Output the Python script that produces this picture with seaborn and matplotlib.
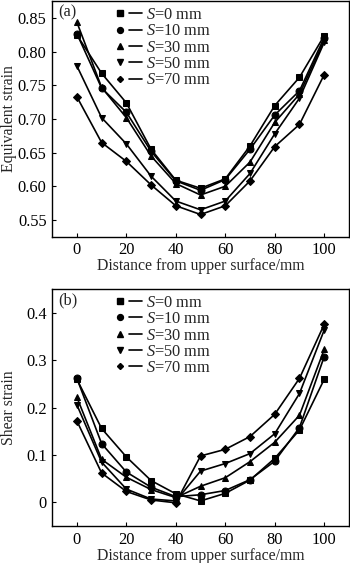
import matplotlib
matplotlib.use("Agg")
import matplotlib.pyplot as plt
import seaborn as sns
import pandas as pd
from matplotlib.lines import Line2D
from matplotlib.legend_handler import HandlerTuple

distance = [0, 10, 20, 30, 40, 50, 60, 70, 80, 90, 100]
series = ["S=0 mm", "S=10 mm", "S=30 mm", "S=50 mm", "S=70 mm"]
legend_labels = [r"$\mathit{S}$=0 mm", r"$\mathit{S}$=10 mm", r"$\mathit{S}$=30 mm",
                 r"$\mathit{S}$=50 mm", r"$\mathit{S}$=70 mm"]

eq_s0  = [0.825, 0.768, 0.724, 0.655, 0.609, 0.597, 0.611, 0.660, 0.720, 0.762, 0.824]
eq_s10 = [0.827, 0.746, 0.710, 0.652, 0.608, 0.594, 0.610, 0.655, 0.706, 0.742, 0.821]
eq_s30 = [0.844, 0.747, 0.702, 0.645, 0.604, 0.587, 0.600, 0.636, 0.695, 0.737, 0.817]
eq_s50 = [0.779, 0.702, 0.663, 0.615, 0.578, 0.565, 0.578, 0.619, 0.678, 0.731, 0.814]
eq_s70 = [0.733, 0.665, 0.637, 0.602, 0.571, 0.558, 0.571, 0.608, 0.659, 0.692, 0.766]

sh_s0  = [0.260, 0.156, 0.096, 0.046, 0.018, 0.003, 0.019, 0.047, 0.093, 0.153, 0.260]
sh_s10 = [0.262, 0.124, 0.064, 0.032, 0.012, 0.016, 0.025, 0.048, 0.087, 0.158, 0.308]
sh_s30 = [0.222, 0.091, 0.053, 0.027, 0.010, 0.034, 0.052, 0.086, 0.127, 0.184, 0.323]
sh_s50 = [0.206, 0.085, 0.028, 0.007, 0.003, 0.066, 0.082, 0.103, 0.145, 0.230, 0.364]
sh_s70 = [0.172, 0.062, 0.023, 0.005, -0.001, 0.098, 0.112, 0.139, 0.186, 0.262, 0.376]

markers = {"S=0 mm": "s", "S=10 mm": "o", "S=30 mm": "^", "S=50 mm": "v", "S=70 mm": "D"}
msizes = {"S=0 mm": 5.0, "S=10 mm": 5.0, "S=30 mm": 5.0, "S=50 mm": 5.0, "S=70 mm": 3.6}

def long_df(vals):
    rows = []
    for s, v in zip(series, vals):
        for d, y in zip(distance, v):
            rows.append({"dist": d, "val": y, "S": s})
    return pd.DataFrame(rows)

df_eq = long_df([eq_s0, eq_s10, eq_s30, eq_s50, eq_s70])
df_sh = long_df([sh_s0, sh_s10, sh_s30, sh_s50, sh_s70])

sns.set_theme(style="white")
plt.rcParams["font.family"] = ["Liberation Serif", "DejaVu Serif"]
plt.rcParams["mathtext.fontset"] = "custom"
plt.rcParams["mathtext.it"] = "Liberation Serif:italic"
plt.rcParams["mathtext.rm"] = "Liberation Serif"
FS_TICK = 11.8
FS_LAB = 11.3
FS_LEG = 11.8

fig = plt.figure(figsize=(3.5, 5.63), dpi=100)
ax1 = fig.add_axes([0.149, 0.5796, 0.848, 0.418])
ax2 = fig.add_axes([0.149, 0.0657, 0.848, 0.4204])

def draw(ax, df):
    for s in series:
        sub = df[df["S"] == s]
        sns.lineplot(data=sub, x="dist", y="val", ax=ax, color="black", lw=1.2,
                     marker=markers[s], markersize=msizes[s], markeredgecolor="black",
                     markerfacecolor="black", legend=False)
    ax.set_xlim(-10, 110)
    ax.set_xticks([0, 20, 40, 60, 80, 100])
    ax.set_xlabel("Distance from upper surface/mm", fontsize=FS_LAB, labelpad=0)
    for sp in ax.spines.values():
        sp.set_color("black")
        sp.set_linewidth(1.0)
    ax.tick_params(axis="both", direction="in", length=3, width=0.8, labelsize=FS_TICK,
                   colors="black", bottom=True, left=True, top=False, right=False, pad=4)
    handles = []
    for s in series:
        mk = Line2D([], [], color="black", marker=markers[s], markersize=msizes[s] * 0.85, lw=0)
        ln = Line2D([], [], color="black", lw=1.2)
        handles.append((mk, ln))
    ax.legend(handles, legend_labels, handler_map={tuple: HandlerTuple(ndivide=None, pad=0.15)},
              loc="upper left", bbox_to_anchor=(0.17, 1.025), frameon=False, fontsize=FS_LEG,
              handlelength=1.7, handletextpad=0.25, labelspacing=0.02, borderpad=0.2)

draw(ax1, df_eq)
ax1.set_ylim(0.525, 0.875)
ax1.set_yticks([0.55, 0.60, 0.65, 0.70, 0.75, 0.80, 0.85])
ax1.set_yticklabels(["0.55", "0.60", "0.65", "0.70", "0.75", "0.80", "0.85"])
ax1.set_ylabel("Equivalent strain", fontsize=FS_LAB)
ax1.yaxis.set_label_coords(-0.118, 0.5)
ax1.text(0.02, 0.985, "(a)", transform=ax1.transAxes, fontsize=FS_LEG, va="top", ha="left")

draw(ax2, df_sh)
ax2.set_ylim(-0.05, 0.45)
ax2.set_yticks([0, 0.1, 0.2, 0.3, 0.4])
ax2.set_yticklabels(["0", "0.1", "0.2", "0.3", "0.4"])
ax2.set_ylabel("Shear strain", fontsize=FS_LAB)
ax2.yaxis.set_label_coords(-0.118, 0.5)
ax2.text(0.02, 0.985, "(b)", transform=ax2.transAxes, fontsize=FS_LEG, va="top", ha="left")

fig.savefig("out.png", dpi=100, facecolor="white")
